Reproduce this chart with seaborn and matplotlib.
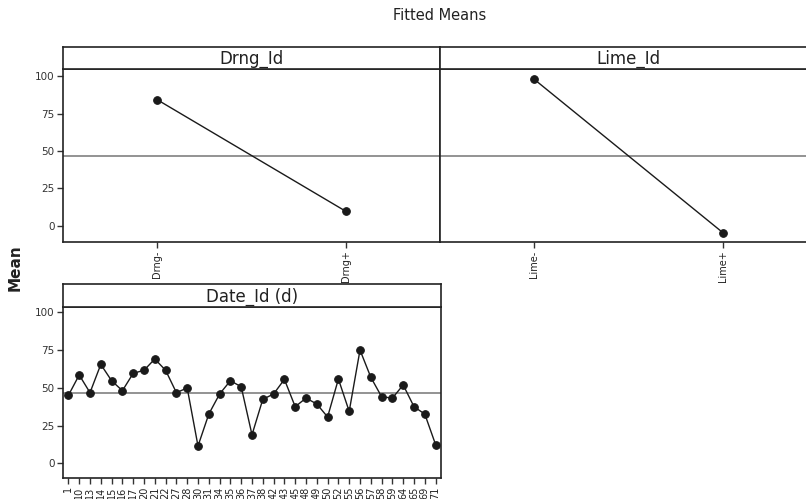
import matplotlib
matplotlib.use("Agg")
import matplotlib.pyplot as plt
import seaborn as sns
import pandas as pd

# Fitted means per factor level
drng_levels = ["Drng-", "Drng+"]
drng_means = [84.2, 9.8]

lime_levels = ["Lime-", "Lime+"]
lime_means = [97.8, -4.4]

date_levels = ["1", "10", "13", "14", "15", "16", "17", "20", "21", "22", "27", "28",
               "30", "31", "34", "35", "36", "37", "38", "42", "43", "45", "48", "49",
               "50", "52", "55", "56", "57", "58", "59", "64", "65", "69", "71"]
date_means = [45.0, 58.5, 46.8, 65.5, 54.7, 48.1, 59.6, 61.6, 69.1, 61.6, 46.8, 49.9,
              11.5, 32.6, 45.9, 54.7, 50.7, 18.9, 42.4, 45.9, 55.6, 37.5, 43.2, 39.3,
              30.7, 55.8, 34.4, 75.0, 57.0, 44.1, 43.2, 51.9, 37.5, 32.6, 12.4]

grand_mean = 46.7
y_ticks = [0, 25, 50, 75, 100]

sns.set_style("white")
plt.rcParams["font.family"] = ["DejaVu Sans"]

W, H = 806, 499
fig = plt.figure(figsize=(W / 100, H / 100), dpi=100)


def fx(px):
    return px / W


def fy(py):
    return 1 - py / H


def panel(left, right, strip_top, strip_bot, bottom, title, levels, means,
          ylim, show_y, label_size):
    ax = fig.add_axes([fx(left), fy(bottom), fx(right - left), fy(strip_bot) - fy(bottom)])
    df = pd.DataFrame({"level": levels, "mean": means})
    sns.pointplot(data=df, x="level", y="mean", color="#1a1a1a", ax=ax,
                  markersize=5.5, linewidth=1.0, errorbar=None)
    ax.axhline(grand_mean, color="#808080", lw=1.2, zorder=0)
    ax.set_xlim(-0.5, len(levels) - 0.5)
    ax.set_ylim(*ylim)
    ax.set_xlabel("")
    ax.set_ylabel("")
    ax.tick_params(axis="x", rotation=90, labelsize=label_size, length=4,
                   width=1, color="#333333", bottom=True, pad=2, labelcolor="#222222")
    ax.set_yticks(y_ticks)
    if show_y:
        ax.tick_params(axis="y", labelsize=7.5, length=4, width=1, color="#333333",
                       left=True, pad=2, labelcolor="#333333")
    else:
        ax.tick_params(axis="y", left=False, labelleft=False)
    for sp in ax.spines.values():
        sp.set_color("#222222")
        sp.set_linewidth(1.2)

    sx = fig.add_axes([fx(left), fy(strip_bot), fx(right - left), fy(strip_top) - fy(strip_bot)])
    sx.set_xticks([])
    sx.set_yticks([])
    for sp in sx.spines.values():
        sp.set_color("#222222")
        sp.set_linewidth(1.2)
    sx.text(0.5, 0.45, title, ha="center", va="center", fontsize=12,
            color="#222222", transform=sx.transAxes)
    return ax


panel(63, 440, 47, 69, 242, "Drng_Id", drng_levels, drng_means, (-10.7, 104.7), True, 7)
panel(440, 817, 47, 69, 242, "Lime_Id", lime_levels, lime_means, (-10.7, 104.7), False, 7)
panel(63, 441, 284, 307, 478, "Date_Id (d)", date_levels, date_means, (-9.7, 103.5), True, 7)

fig.text(fx(440), fy(15), "Fitted Means", ha="center", va="center", fontsize=10.5,
         color="#222222")
fig.text(fx(15), fy(268), "Mean", ha="center", va="center", rotation=90,
         fontsize=11, fontweight="bold", color="#222222")

fig.savefig("out.png", dpi=100)
